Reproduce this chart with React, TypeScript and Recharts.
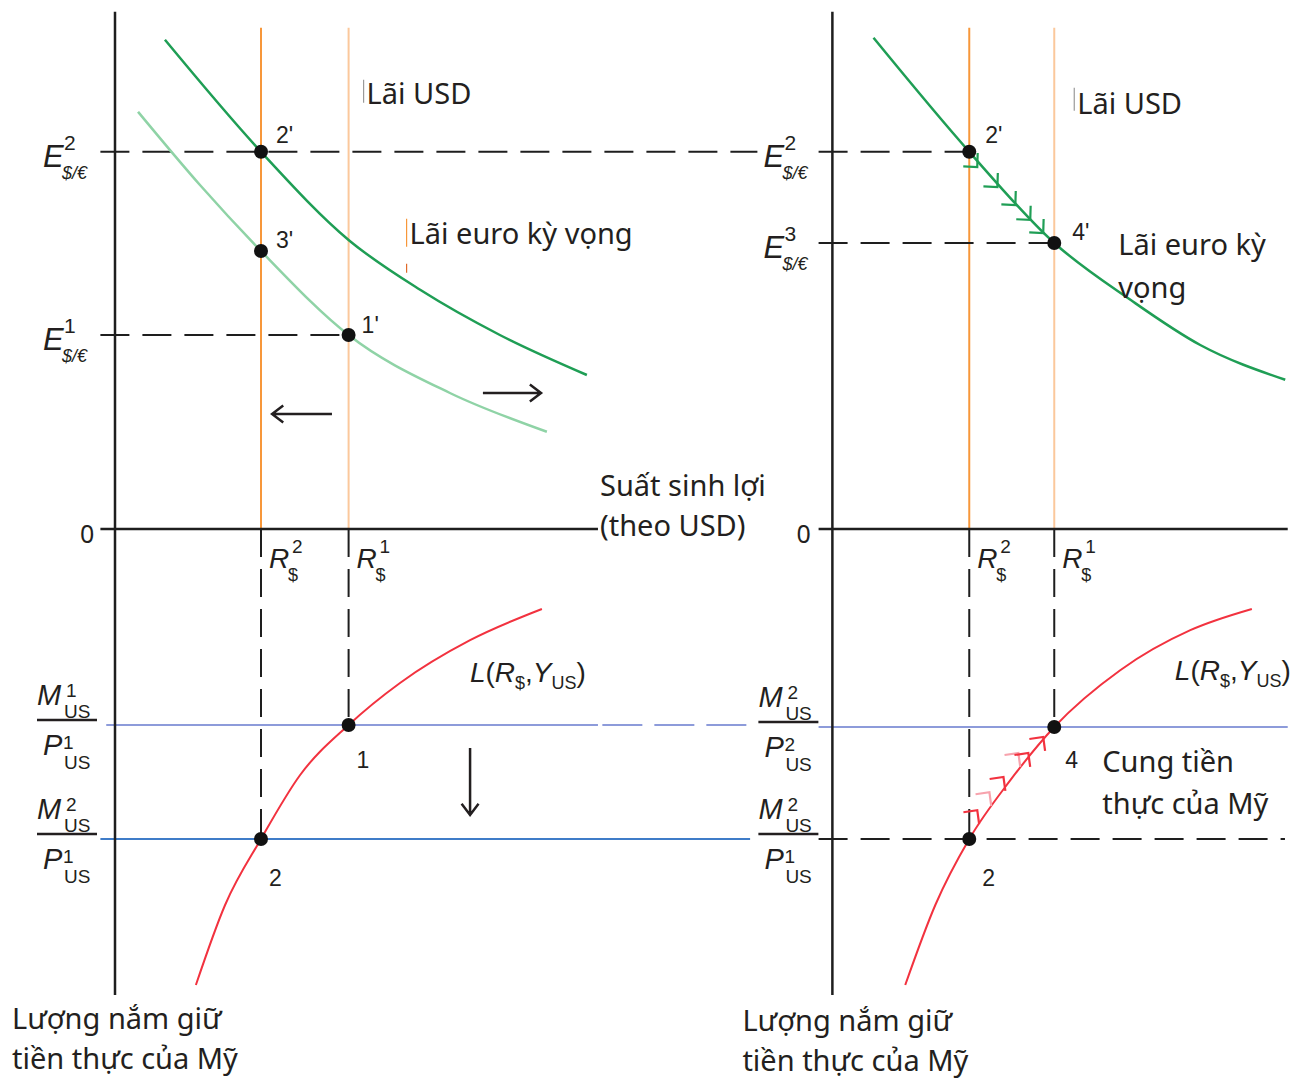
import {
  ComposedChart,
  Line,
  ReferenceDot,
  ReferenceLine,
  Scatter,
  XAxis,
  YAxis,
} from "recharts";

const INK = "#231f20";
const AXIS = "#1e1e1e";
const GREEN = "#1f9e55";
const GREEN_LIGHT = "#8fd3a6";
const RED = "#f2323f";
const RED_GHOST = "#f7a3ad";
const ORANGE = "#f7973a";
const ORANGE_LIGHT = "#fbc89c";
const BLUE = "#3f7cc8";
const BLUE_LIGHT = "#8d9bda";
const TXT = "'Noto Sans', 'Open Sans', sans-serif";
const MTH = "'Liberation Sans', Arial, sans-serif";
const DASH = "29 13";
const DASH_V = "28 12";

type P = { x: number; y: number };

// Trục ngang: suất sinh lợi theo USD. Trục dọc: tỷ giá ở trên, lượng tiền thực
// ở dưới (giá trị âm = đo xuống dưới gốc).
const Y_TOP = 12.93;
const Y_BOTTOM = -11.65;
const RULE_TOP = 12.53;

// Bảng trái
const R2_A = 5;
const R1_A = 8;
const AXIS_END_A = 16.54;
const LINE_END_A = 21.75;
// Bảng phải
const R2_B = 4.96;
const R1_B = 8.04;
const AXIS_END_B = 16.5;

const E2_RATE = 9.43;
const E1_RATE = 4.85;
const E3_RATE = 7.15;
const EURO_LOW_AT_R2 = 6.95;
const M1_P1 = -4.9;
const M2_P1 = -7.75;
const M2_P2 = -4.95;

const euroHighA: P[] = [
  { x: 1.71, y: 12.23 },
  { x: R2_A, y: E2_RATE },
  { x: 8.01, y: 7.22 },
  { x: 10.45, y: 5.98 },
  { x: 13.18, y: 4.85 },
  { x: 16.16, y: 3.85 },
];
const euroLowA: P[] = [
  { x: 0.79, y: 10.43 },
  { x: 2.91, y: 8.6 },
  { x: R2_A, y: EURO_LOW_AT_R2 },
  { x: R1_A, y: E1_RATE },
  { x: 11.47, y: 3.4 },
  { x: 14.79, y: 2.43 },
];
const demandA: P[] = [
  { x: 2.77, y: -11.4 },
  { x: 3.77, y: -9.4 },
  { x: R2_A, y: M2_P1 },
  { x: 6.34, y: -6.15 },
  { x: R1_A, y: M1_P1 },
  { x: 9.76, y: -3.85 },
  { x: 12.16, y: -2.78 },
  { x: 14.62, y: -2.0 },
];
const euroB: P[] = [
  { x: 1.49, y: 12.28 },
  { x: R2_B, y: E2_RATE },
  { x: R1_B, y: E3_RATE },
  { x: 10.8, y: 5.73 },
  { x: 13.33, y: 4.6 },
  { x: 16.41, y: 3.73 },
];
const demandB: P[] = [
  { x: 2.64, y: -11.4 },
  { x: 3.73, y: -9.4 },
  { x: R2_B, y: M2_P1 },
  { x: 6.45, y: -6.28 },
  { x: R1_B, y: M2_P2 },
  { x: 10.43, y: -3.53 },
  { x: 12.97, y: -2.53 },
  { x: 15.2, y: -2.0 },
];

const pointsA: P[] = [
  { x: R2_A, y: E2_RATE },
  { x: R2_A, y: EURO_LOW_AT_R2 },
  { x: R1_A, y: E1_RATE },
  { x: R1_A, y: M1_P1 },
  { x: R2_A, y: M2_P1 },
];
const pointsB: P[] = [
  { x: R2_B, y: E2_RATE },
  { x: R1_B, y: E3_RATE },
  { x: R1_B, y: M2_P2 },
  { x: R2_B, y: M2_P1 },
];

// mũi tên nhỏ dọc đường điều chỉnh
const euroPathB: P[] = [
  { x: 5.25, y: 9.05 },
  { x: 5.98, y: 8.55 },
  { x: 6.63, y: 8.1 },
  { x: 7.17, y: 7.73 },
  { x: 7.64, y: 7.4 },
];
const moneyPathB: P[] = [
  { x: 5.25, y: -7.03 },
  { x: 6.2, y: -6.2 },
  { x: 7.1, y: -5.6 },
  { x: 7.64, y: -5.2 },
];
const moneyGhostB: P[] = [
  { x: 5.69, y: -6.58 },
  { x: 6.74, y: -5.6 },
];

const shiftArrowsA: [P, P][] = [
  [{ x: 7.43, y: 2.875 }, { x: 5.38, y: 2.875 }],
  [{ x: 12.6, y: 3.4 }, { x: 14.59, y: 3.4 }],
  [{ x: 12.16, y: -5.475 }, { x: 12.16, y: -7.15 }],
];

const seg = (x1: number, y1: number, x2: number, y2: number) => [
  { x: x1, y: y1 },
  { x: x2, y: y2 },
];

function rule(key: string, pts: P[], stroke: string, width: number, dash?: string) {
  return (
    <ReferenceLine
      key={key}
      segment={pts}
      stroke={stroke}
      strokeWidth={width}
      strokeDasharray={dash}
      ifOverflow="visible"
    />
  );
}

function note(key: string, at: P, dx: number, dy: number, body: any) {
  return (
    <ReferenceDot
      key={key}
      x={at.x}
      y={at.y}
      r={0}
      ifOverflow="visible"
      shape={(p: any) => (
        <g transform={`translate(${p.cx + dx},${p.cy + dy})`}>{body}</g>
      )}
    />
  );
}

const words = (lines: string[], gap = 42, size = 29) => (
  <text fontFamily={TXT} fontSize={size} fill={INK}>
    {lines.map((l, i) => (
      <tspan key={i} x={0} y={i * gap}>
        {l}
      </tspan>
    ))}
  </text>
);

const tag = (s: string) => (
  <text fontFamily={MTH} fontSize={23} fill={INK}>
    {s}
  </text>
);

const rate = (sup: string) => (
  <g fontFamily={MTH} fill={INK}>
    <text fontSize={31} fontStyle="italic">E</text>
    <text x={21} y={-17} fontSize={21}>{sup}</text>
    <text x={19} y={12} fontSize={18} fontStyle="italic">$/€</text>
  </g>
);

const ret = (sup: string) => (
  <g fontFamily={MTH} fill={INK}>
    <text fontSize={28} fontStyle="italic">R</text>
    <text x={23} y={-15} fontSize={19}>{sup}</text>
    <text x={19} y={13} fontSize={18}>$</text>
  </g>
);

const frac = (mSup: string, pSup: string) => (
  <g fontFamily={MTH} fill={INK}>
    <text y={-20} fontSize={29} fontStyle="italic">M</text>
    <text x={29} y={-28} fontSize={19}>{mSup}</text>
    <text x={27} y={-7} fontSize={19}>US</text>
    <line x1={0} x2={60} y1={-5} y2={-5} stroke={INK} strokeWidth={2.5} />
    <text x={6} y={30} fontSize={29} fontStyle="italic">P</text>
    <text x={26} y={24} fontSize={19}>{pSup}</text>
    <text x={27} y={44} fontSize={19}>US</text>
  </g>
);

const demandLabel = (
  <text fontFamily={MTH} fontSize={28} fill={INK}>
    <tspan fontStyle="italic">L</tspan>
    <tspan>(</tspan>
    <tspan fontStyle="italic">R</tspan>
    <tspan fontSize={18} dy={7}>$</tspan>
    <tspan dy={-7}>,</tspan>
    <tspan fontStyle="italic">Y</tspan>
    <tspan fontSize={18} dy={7}>US</tspan>
    <tspan dy={-7}>)</tspan>
  </text>
);

const caretBar = (color: string, y1: number, y2: number) => (
  <line x1={-3} x2={-3} y1={y1} y2={y2} stroke={color} strokeWidth={1.2} />
);

const dot = (p: any) => <circle cx={p.cx} cy={p.cy} r={7} fill="#111" />;

function chevron(angleDeg: number, color: string) {
  return (p: any) => {
    const back = (angleDeg * Math.PI) / 180 + Math.PI;
    const s = 14;
    const w = 0.78;
    const ax = p.cx + s * Math.cos(back - w);
    const ay = p.cy + s * Math.sin(back - w);
    const bx = p.cx + s * Math.cos(back + w);
    const by = p.cy + s * Math.sin(back + w);
    return (
      <path
        d={`M${ax},${ay}L${p.cx},${p.cy}L${bx},${by}`}
        fill="none"
        stroke={color}
        strokeWidth={2.2}
      />
    );
  };
}

const arrowShape = (p: any) => {
  const { x1, y1, x2, y2 } = p;
  const a = Math.atan2(y2 - y1, x2 - x1);
  const s = 14;
  const w = 0.65;
  const h1 = `${x2 - s * Math.cos(a - w)},${y2 - s * Math.sin(a - w)}`;
  const h2 = `${x2 - s * Math.cos(a + w)},${y2 - s * Math.sin(a + w)}`;
  return (
    <path
      d={`M${x1},${y1}L${x2},${y2}M${h1}L${x2},${y2}L${h2}`}
      fill="none"
      stroke={INK}
      strokeWidth={2.5}
    />
  );
};

function curve(key: string, data: P[], stroke: string, width: number) {
  return (
    <Line
      key={key}
      data={data}
      dataKey="y"
      type="monotone"
      stroke={stroke}
      strokeWidth={width}
      dot={false}
      activeDot={false}
      isAnimationActive={false}
    />
  );
}

function LeftPanel() {
  return (
    <ComposedChart
      width={800}
      height={1081}
      margin={{ top: 9, right: 42.6, bottom: 72, left: 12.8 }}
    >
      <XAxis type="number" dataKey="x" domain={[-3.5, 22]} hide allowDataOverflow />
      <YAxis type="number" dataKey="y" domain={[-12, 13]} hide allowDataOverflow />

      {rule("r2", seg(R2_A, 0, R2_A, RULE_TOP), ORANGE, 2)}
      {rule("r1", seg(R1_A, 0, R1_A, RULE_TOP), ORANGE_LIGHT, 2)}
      {rule("r2d", seg(R2_A, 0, R2_A, M2_P1), AXIS, 2, DASH_V)}
      {rule("r1d", seg(R1_A, 0, R1_A, M1_P1), AXIS, 2, DASH_V)}
      {rule("e2", seg(-0.5, E2_RATE, 22, E2_RATE), AXIS, 2, DASH)}
      {rule("e1", seg(-0.5, E1_RATE, R1_A, E1_RATE), AXIS, 2, DASH)}
      {rule("m1", seg(-0.3, M1_P1, AXIS_END_A, M1_P1), BLUE_LIGHT, 2)}
      {rule("m1d", seg(AXIS_END_A + 0.15, M1_P1, LINE_END_A, M1_P1), BLUE_LIGHT, 2, "40 12")}
      {rule("m2", seg(-0.5, M2_P1, LINE_END_A, M2_P1), BLUE, 2)}
      {rule("ya", seg(0, Y_BOTTOM, 0, Y_TOP), AXIS, 2.5)}
      {rule("xa", seg(-0.5, 0, AXIS_END_A, 0), AXIS, 2.5)}

      {shiftArrowsA.map(([a, b], i) => (
        <ReferenceLine
          key={`arr${i}`}
          segment={[a, b]}
          ifOverflow="visible"
          shape={arrowShape}
        />
      ))}

      {curve("euroLow", euroLowA, GREEN_LIGHT, 2.5)}
      {curve("euroHigh", euroHighA, GREEN, 2.5)}
      {curve("demand", demandA, RED, 2)}

      <Scatter data={pointsA} dataKey="y" shape={dot} isAnimationActive={false} />

      {note("lusd", { x: R1_A, y: RULE_TOP }, 18, 76, <g>{caretBar("#9a9a9a", -24, -1)}{words(["Lãi USD"])}</g>)}
      {note("leuro", { x: R1_A, y: E2_RATE }, 61, 92, (
        <g>
          {caretBar(ORANGE, -25, 3)}
          {caretBar("#e06a2a", 20, 29)}
          {words(["Lãi euro kỳ vọng"])}
        </g>
      ))}
      {note("p2", pointsA[0], 15, -9, tag("2'"))}
      {note("p3", pointsA[1], 15, -3, tag("3'"))}
      {note("p1", pointsA[2], 13, -2, tag("1'"))}
      {note("q1", pointsA[3], 8, 43, tag("1"))}
      {note("q2", pointsA[4], 8, 47, tag("2"))}
      {note("zero", { x: 0, y: 0 }, -35, 14, words(["0"], 0, 25))}
      {note("xlab", { x: AXIS_END_A, y: 0 }, 2, -33, words(["Suất sinh lợi", "(theo USD)"], 40))}
      {note("ylab", { x: 0, y: Y_BOTTOM }, -103, 34, words(["Lượng nắm giữ", "tiền thực của Mỹ"], 40))}
      {note("e2l", { x: 0, y: E2_RATE }, -72, 15, rate("2"))}
      {note("e1l", { x: 0, y: E1_RATE }, -72, 15, rate("1"))}
      {note("r2l", { x: R2_A, y: 0 }, 8, 39, ret("2"))}
      {note("r1l", { x: R1_A, y: 0 }, 8, 39, ret("1"))}
      {note("m1l", { x: 0, y: M1_P1 }, -78, 0, frac("1", "1"))}
      {note("m2l", { x: 0, y: M2_P1 }, -78, 0, frac("2", "1"))}
      {note("ll", demandA[demandA.length - 1], -72, 73, demandLabel)}
    </ComposedChart>
  );
}

function RightPanel() {
  return (
    <ComposedChart
      width={596}
      height={1081}
      margin={{ top: 9, right: 0, bottom: 72, left: 22 }}
    >
      <XAxis type="number" dataKey="x" domain={[-4, 16.8]} hide allowDataOverflow />
      <YAxis type="number" dataKey="y" domain={[-12, 13]} hide allowDataOverflow />

      {rule("r2", seg(R2_B, 0, R2_B, RULE_TOP), ORANGE, 2)}
      {rule("r1", seg(R1_B, 0, R1_B, RULE_TOP), ORANGE_LIGHT, 2)}
      {rule("r2d", seg(R2_B, 0, R2_B, M2_P1), AXIS, 2, DASH_V)}
      {rule("r1d", seg(R1_B, 0, R1_B, M2_P2), AXIS, 2, DASH_V)}
      {rule("e2", seg(-0.5, E2_RATE, R2_B, E2_RATE), AXIS, 2, DASH)}
      {rule("e3", seg(-0.5, E3_RATE, R1_B, E3_RATE), AXIS, 2, DASH)}
      {rule("m2p2", seg(-0.5, M2_P2, AXIS_END_B, M2_P2), BLUE_LIGHT, 2)}
      {rule("m2p1", seg(-0.5, M2_P1, 16.4, M2_P1), AXIS, 2, DASH)}
      {rule("ya", seg(0, Y_BOTTOM, 0, Y_TOP), AXIS, 2.5)}
      {rule("xa", seg(-0.5, 0, AXIS_END_B, 0), AXIS, 2.5)}

      {note("leuro", pointsB[1], 64, 12, words(["Lãi euro kỳ", "vọng"], 43))}

      {curve("euro", euroB, GREEN, 2.5)}
      {curve("demand", demandB, RED, 2)}

      <Scatter data={moneyGhostB} dataKey="y" shape={chevron(-53, RED_GHOST)} isAnimationActive={false} />
      <Scatter data={euroPathB} dataKey="y" shape={chevron(47, GREEN)} isAnimationActive={false} />
      <Scatter data={moneyPathB} dataKey="y" shape={chevron(-53, RED)} isAnimationActive={false} />
      <Scatter data={pointsB} dataKey="y" shape={dot} isAnimationActive={false} />

      {note("lusd", { x: R1_B, y: RULE_TOP }, 23, 86, <g>{caretBar("#9a9a9a", -26, -3)}{words(["Lãi USD"])}</g>)}
      {note("p2", pointsB[0], 16, -9, tag("2'"))}
      {note("p4", pointsB[1], 18, -3, tag("4'"))}
      {note("q4", pointsB[2], 11, 41, tag("4"))}
      {note("q2", pointsB[3], 13, 47, tag("2"))}
      {note("supply", pointsB[2], 48, 45, words(["Cung tiền", "thực của Mỹ"], 42))}
      {note("zero", { x: 0, y: 0 }, -36, 14, words(["0"], 0, 25))}
      {note("ylab", { x: 0, y: Y_BOTTOM }, -90, 36, words(["Lượng nắm giữ", "tiền thực của Mỹ"], 40))}
      {note("e2l", { x: 0, y: E2_RATE }, -69, 15, rate("2"))}
      {note("e3l", { x: 0, y: E3_RATE }, -69, 15, rate("3"))}
      {note("r2l", { x: R2_B, y: 0 }, 8, 39, ret("2"))}
      {note("r1l", { x: R1_B, y: 0 }, 8, 39, ret("1"))}
      {note("m2l", { x: 0, y: M2_P2 }, -74, 0, frac("2", "2"))}
      {note("m3l", { x: 0, y: M2_P1 }, -74, 0, frac("2", "1"))}
      {note("ll", demandB[demandB.length - 1], -77, 71, demandLabel)}
    </ComposedChart>
  );
}

export default function App() {
  return (
    <div
      style={{
        position: "absolute",
        left: 0,
        top: 0,
        width: 1296,
        height: 1081,
        background: "#fff",
        overflow: "hidden",
      }}
    >
      <div style={{ position: "absolute", left: 0, top: 0 }}>
        <LeftPanel />
      </div>
      <div style={{ position: "absolute", left: 700, top: 0 }}>
        <RightPanel />
      </div>
    </div>
  );
}
